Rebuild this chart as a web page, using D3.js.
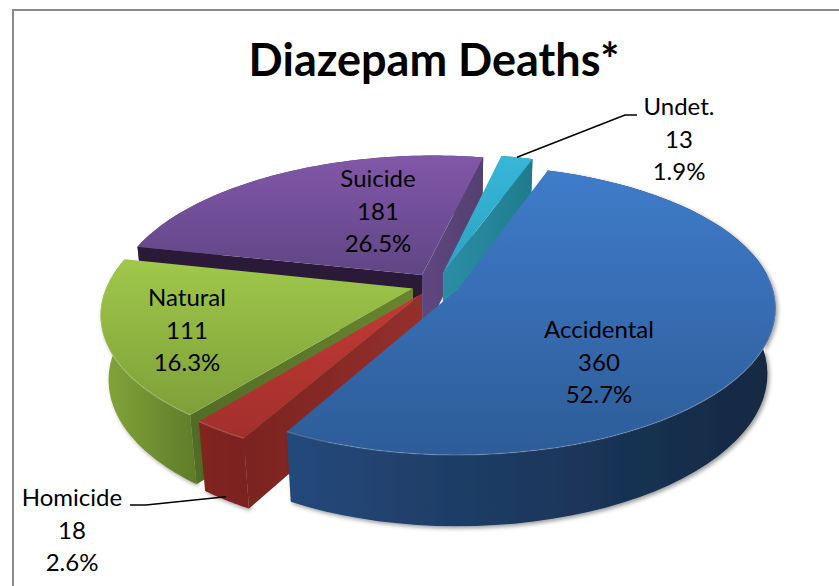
<!DOCTYPE html>
<html>
<head>
<meta charset="utf-8">
<script src="https://cdn.jsdelivr.net/npm/d3@7"></script>
<style>
  body { margin: 0; background: #fff; }
  text { font-family: Lato, "Open Sans", sans-serif; fill: #000; }
</style>
</head>
<body>
<script>
var categories = ["Accidental", "Homicide", "Natural", "Suicide", "Undet."];
var values = [360, 18, 111, 181, 13];
var percents = ["52.7%", "2.6%", "16.3%", "26.5%", "1.9%"];

// top face [far, near], outer wall [left, right], radial wall [outer, apex]
var topColors = [["#3f7cca", "#2d5c98"], ["#c23a36", "#a22f2c"], ["#a0c84a", "#7e9f38"], ["#8257a9", "#5f4684"], ["#36b6d8", "#2ea3c2"]];
var wallColors = [["#24497b", "#142841"], ["#82251f", "#7a2320"], ["#84a63a", "#5f7c2a"], ["#5f4680", "#4f3c6c"], ["#2b8ea6", "#1f7c8e"]];
var radialColors = [null, ["#7a2320", "#94302c"], ["#526b26", "#6a8530"], ["#5f4680", "#54406f"], ["#2b8ea6", "#1f7c8e"]];
var backWall = "#2a1a38";

var width = 839, height = 586;
var cx = 436, cy = 284;       // projected pie centre
var A = 309, K = 140, D = 66; // horizontal, vertical and depth scale
var p = 0.15, q = 0.024, r = -0.01; // perspective
var skew = 8;
var explode = 0.08;
var startDeg = 18.2;
var drawOrder = [3, 4, 2, 1, 0];

// label anchor, first baseline
var labelPos = [[599, 338], [72, 506], [187, 306], [378, 187], [679, 115]];
var lineStep = 32.7;

var pie = d3.pie().sort(null)
    .startAngle(startDeg * Math.PI / 180)
    .endAngle((startDeg + 360) * Math.PI / 180);
var slices = pie(values);

function project(u, v, z) {
    var w = 1 + p * v + q * z + r * u;
    return [cx + (A * u + skew * v) / w, cy - (K * v - D * z) / w];
}

function offset(d) {
    var mid = (d.startAngle + d.endAngle) / 2;
    return [explode * Math.sin(mid), explode * Math.cos(mid)];
}

// Excel's 3D view pulls the far left of the pie round a little
function warp(a) {
    var from = slices[2].startAngle, to = slices[3].endAngle;
    if (a <= from || a >= to) return a;
    return a + 7 * Math.PI / 180 * Math.sin(Math.PI * (a - from) / (to - from));
}

function rimPoint(d, a, z) {
    var o = offset(d), b = warp(a);
    return project(o[0] + Math.sin(b), o[1] + Math.cos(b), z);
}

function apex(d, z) {
    var o = offset(d);
    return project(o[0], o[1], z);
}

function rimAngles(d) {
    return d3.range(0, 61).map(function(i) {
        return d.startAngle + (d.endAngle - d.startAngle) * i / 60;
    });
}

function rim(d, z) {
    return rimAngles(d).map(function(a) { return rimPoint(d, a, z); });
}

var line = d3.line();

var svg = d3.select("body").append("svg")
    .attr("width", width)
    .attr("height", height);

var defs = svg.append("defs");

function gradient(id, colors, vertical) {
    var g = defs.append("linearGradient").attr("id", id)
        .attr("x1", 0).attr("y1", 0)
        .attr("x2", vertical ? 0 : 1).attr("y2", vertical ? 1 : 0);
    g.append("stop").attr("offset", "0%").attr("stop-color", colors[0]);
    g.append("stop").attr("offset", "100%").attr("stop-color", colors[1]);
}

categories.forEach(function(c, i) {
    gradient("top" + i, topColors[i], true);
    gradient("wall" + i, wallColors[i], false);
    if (radialColors[i]) gradient("radial" + i, radialColors[i], false);
});

var shadow = defs.append("filter").attr("id", "shadow")
    .attr("x", "-10%").attr("y", "-10%").attr("width", "120%").attr("height", "125%");
shadow.append("feDropShadow")
    .attr("dx", 2).attr("dy", 2).attr("stdDeviation", 2)
    .attr("flood-color", "#000").attr("flood-opacity", 0.4);

// chart area border, runs off the right and bottom of the picture
svg.append("rect")
    .attr("x", 13).attr("y", 10)
    .attr("width", width + 20).attr("height", height + 20)
    .attr("fill", "#fff")
    .attr("stroke", "#8a8a8a")
    .attr("stroke-width", 2);

svg.append("text")
    .attr("x", 434).attr("y", 76)
    .attr("text-anchor", "middle")
    .attr("font-size", 45)
    .attr("font-weight", 700)
    .text("Diazepam Deaths*");

function radialWall(g, d, a, fill) {
    g.append("path")
        .attr("d", line([rimPoint(d, a, 0), apex(d, 0), apex(d, 1), rimPoint(d, a, 1)]) + "Z")
        .attr("fill", fill);
}

drawOrder.forEach(function(i) {
    var d = slices[i];
    var g = svg.append("g");

    // outer wall
    var topRim = rim(d, 0), bottomRim = rim(d, 1).reverse();
    g.append("path")
        .attr("d", line(topRim.concat(bottomRim)) + "Z")
        .attr("fill", "url(#wall" + i + ")")
        .attr("filter", i > 2 ? null : "url(#shadow)");

    // radial walls that face the viewer
    if (i === 1 || i === 2) radialWall(g, d, d.startAngle, "url(#radial" + i + ")");
    if (i === 3 || i === 4) radialWall(g, d, d.endAngle, "url(#radial" + i + ")");
    if (i === 3) radialWall(g, d, d.startAngle, backWall);

    // top face
    g.append("path")
        .attr("d", line([apex(d, 0)].concat(topRim)) + "Z")
        .attr("fill", "url(#top" + i + ")");

    // light bevel along the near part of the rim
    var nearRim = rimAngles(d).filter(function(a) { return Math.cos(warp(a)) < 0.1; })
        .map(function(a) { return rimPoint(d, a, 0); });
    if (i < 3 && nearRim.length > 1) {
        g.append("path")
            .attr("d", line(nearRim))
            .attr("fill", "none")
            .attr("stroke", "#fff")
            .attr("stroke-opacity", 0.15)
            .attr("stroke-width", 1.5);
    }
});

// leader lines from the two outside labels
var leaderUndet = [rimPoint(slices[4], (slices[4].startAngle + slices[4].endAngle) / 2, 0), [625, 115], [637, 115]];
var leaderHomicide = [[130, 505], [146, 505], rimPoint(slices[1], (slices[1].startAngle + slices[1].endAngle) / 2, 0.95)];
[leaderUndet, leaderHomicide].forEach(function(pts) {
    svg.append("path")
        .attr("d", line(pts))
        .attr("fill", "none")
        .attr("stroke", "#000")
        .attr("stroke-width", 1.5);
});

categories.forEach(function(c, i) {
    var t = svg.append("text")
        .attr("text-anchor", "middle")
        .attr("font-size", 24);
    [c, values[i], percents[i]].forEach(function(s, j) {
        t.append("tspan")
            .attr("x", labelPos[i][0])
            .attr("y", labelPos[i][1] + j * lineStep)
            .text(s);
    });
});
</script>
</body>
</html>
